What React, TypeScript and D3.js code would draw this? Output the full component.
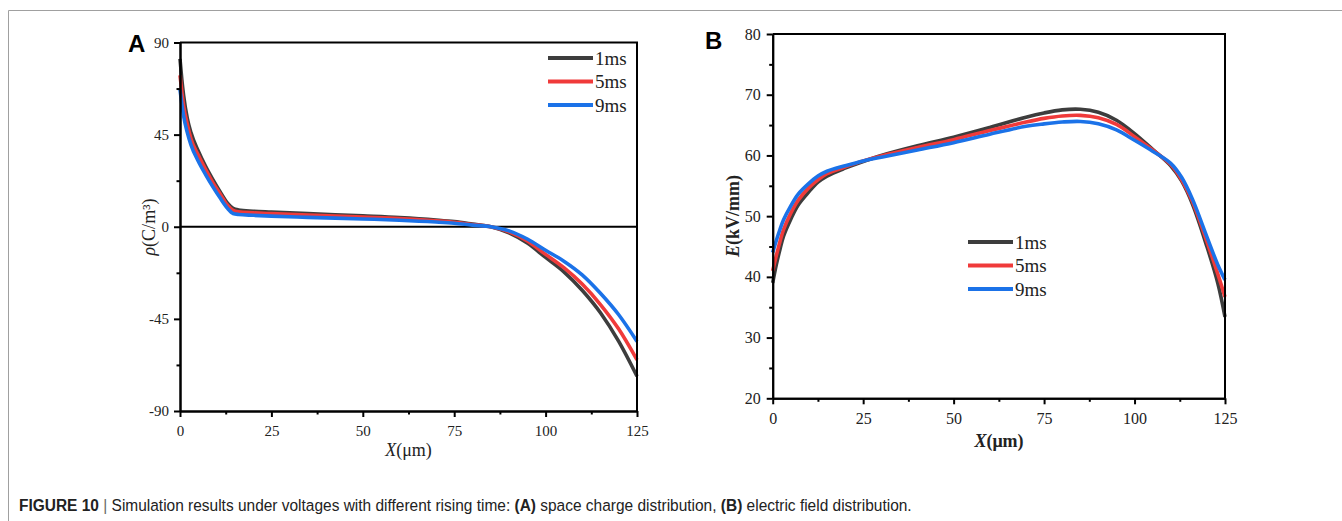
import { useEffect, useRef } from 'react'
import * as d3 from 'd3'

// Panel A: space charge density rho (C/m^3) vs X (um)
const xA = [0, 0.5, 1, 2, 3, 5, 7, 9, 11, 13, 14.5, 16, 20, 25, 35, 50, 60, 70, 75, 80, 85, 90, 95, 100, 105, 110, 115, 120, 125]
const rho1ms = [82, 72, 64, 53, 46, 37, 29.5, 23, 17, 11.5, 9, 8.2, 7.6, 7.2, 6.4, 5.3, 4.5, 3.3, 2.5, 1.3, 0, -3, -8, -15, -22, -31, -42, -56, -73]
const rho5ms = [74, 66, 59, 50, 43, 35, 28, 21.5, 16, 10.5, 8, 7.3, 6.8, 6.4, 5.7, 4.7, 4, 2.9, 2.2, 1.1, 0, -2.5, -7, -13.5, -20, -28, -38, -50, -65]
const rho9ms = [67, 60, 54, 46, 40, 32, 25.5, 19.5, 14, 9, 6.5, 6, 5.6, 5.2, 4.6, 3.8, 3.2, 2.3, 1.7, 0.8, 0, -2, -6, -11.5, -16.8, -23.5, -32.5, -43, -56]

// Panel B: electric field E (kV/mm) vs X (um)
const xB = [0, 1, 2, 3, 5, 7, 10, 12.5, 15, 20, 25, 30, 40, 50, 60, 70, 75, 80, 85, 90, 95, 100, 105, 110, 113, 116, 120, 123, 125]
const e1ms = [39, 42, 44.5, 46.7, 49.5, 51.8, 54, 55.6, 56.6, 57.9, 59, 60, 61.6, 63, 64.6, 66.3, 67, 67.5, 67.6, 67.1, 65.8, 63.6, 61, 58.3, 55.8, 52, 45, 39, 33.4]
const e5ms = [41, 43.5, 45.8, 47.8, 50.5, 52.6, 54.7, 56, 57, 58.1, 59.1, 59.9, 61.3, 62.6, 64.1, 65.5, 66.1, 66.5, 66.6, 66.2, 65.1, 63.1, 60.9, 58.5, 56, 52.4, 45.8, 40.5, 36.7]
const e9ms = [44, 46, 47.8, 49.4, 51.7, 53.6, 55.4, 56.6, 57.4, 58.3, 59.1, 59.7, 60.9, 62.1, 63.5, 64.8, 65.2, 65.5, 65.6, 65.2, 64.2, 62.5, 60.7, 58.7, 56.4, 52.8, 46.6, 42, 39.5]

const seriesNames = ['1ms', '5ms', '9ms']
const seriesColors = ['#3d3d3d', '#f03a3a', '#1b72e8']
const xTicks = [0, 25, 50, 75, 100, 125]
const xMinor = [12.5, 37.5, 62.5, 87.5, 112.5]
const rhoTicks = [-90, -45, 0, 45, 90]
const rhoMinor = [-67.5, -22.5, 22.5, 67.5]
const eTicks = [20, 30, 40, 50, 60, 70, 80]
const eMinor = [25, 35, 45, 55, 65, 75]

const SERIF = 'Liberation Serif, Times New Roman, serif'
const SANS = 'Liberation Sans, Arial, sans-serif'

export default function App() {
  const svgRef = useRef<SVGSVGElement>(null)

  useEffect(() => {
    document.body.style.margin = '0'
    const width = 1342, height = 521
    const svg = d3.select(svgRef.current)
    svg.selectAll('*').remove()
    svg.attr('width', width).attr('height', height).style('background', '#fff')

    // outer figure frame
    svg.append('path')
      .attr('d', `M${width + 5},10.5 H8.5 V${height + 5}`)
      .attr('fill', 'none').attr('stroke', '#a0a0a0').attr('stroke-width', 1)

    function panel(cfg: any) {
      const x = d3.scaleLinear().domain([0, 125]).range([cfg.left, cfg.right])
      const y = d3.scaleLinear().domain(cfg.yDomain).range([cfg.bottom, cfg.top])
      const g = svg.append('g')

      const line = d3.line<number>()
        .x((d, i) => x(cfg.xs[i]))
        .y(d => y(d))
        .curve(cfg.curve)

      if (cfg.zeroLine) {
        g.append('line')
          .attr('x1', cfg.left).attr('x2', cfg.right)
          .attr('y1', y(0)).attr('y2', y(0))
          .attr('stroke', '#000').attr('stroke-width', 2)
      }

      cfg.series.forEach((vals: number[], i: number) => {
        g.append('path')
          .datum(vals)
          .attr('d', line)
          .attr('fill', 'none')
          .attr('stroke', seriesColors[i])
          .attr('stroke-width', 3.6)
          .attr('stroke-linejoin', 'round')
      })

      // frame top & right
      g.append('path')
        .attr('d', `M${cfg.left},${cfg.top} H${cfg.right} V${cfg.bottom}`)
        .attr('fill', 'none').attr('stroke', '#000').attr('stroke-width', 2)

      const xAxis = g.append('g').attr('transform', `translate(0,${cfg.bottom})`)
        .call(d3.axisBottom(x).tickValues(xTicks).tickSize(6).tickSizeOuter(0).tickPadding(cfg.xPad))
      const xAxisMinor = g.append('g').attr('transform', `translate(0,${cfg.bottom})`)
        .call(d3.axisBottom(x).tickValues(xMinor).tickSize(3.5).tickSizeOuter(0).tickFormat(() => ''))
      const yAxis = g.append('g').attr('transform', `translate(${cfg.left},0)`)
        .call(d3.axisLeft(y).tickValues(cfg.yTicks).tickSize(6).tickSizeOuter(0).tickPadding(cfg.yPad))
      const yAxisMinor = g.append('g').attr('transform', `translate(${cfg.left},0)`)
        .call(d3.axisLeft(y).tickValues(cfg.yMinor).tickSize(3.5).tickSizeOuter(0).tickFormat(() => ''))

      ;[xAxis, xAxisMinor, yAxis, yAxisMinor].forEach(a => {
        a.select('.domain').attr('stroke', '#000').attr('stroke-width', 2)
        a.selectAll('.tick line').attr('stroke', '#000').attr('stroke-width', 2)
        a.selectAll('.tick text')
          .attr('fill', '#222')
          .style('font-family', SERIF)
          .style('font-size', cfg.tickFont + 'px')
      })
      yAxis.selectAll('.tick text').text((d: any) => d < 0 ? '-' + Math.abs(d) : String(d))

      // legend
      seriesNames.forEach((name, i) => {
        const ly = cfg.legendY + i * 23.5
        g.append('line')
          .attr('x1', cfg.legendX).attr('x2', cfg.legendX + 45)
          .attr('y1', ly).attr('y2', ly)
          .attr('stroke', seriesColors[i]).attr('stroke-width', 4)
        g.append('text')
          .attr('x', cfg.legendX + 47).attr('y', ly).attr('dy', '0.35em')
          .style('font-family', SERIF).style('font-size', '19px')
          .attr('fill', '#222')
          .text(name)
      })

      // panel letter
      g.append('text')
        .attr('x', cfg.letterX).attr('y', cfg.letterY)
        .style('font-family', SANS).style('font-size', '24px').style('font-weight', 'bold')
        .text(cfg.letter)

      return { x, y, g }
    }

    const a = panel({
      left: 180, right: 637, top: 42.5, bottom: 411,
      yDomain: [-90, 90], yTicks: rhoTicks, yMinor: rhoMinor,
      xs: xA, series: [rho1ms, rho5ms, rho9ms], curve: d3.curveMonotoneX,
      zeroLine: true, xPad: 8, yPad: 5, tickFont: 15,
      legendX: 548, legendY: 58, letter: 'A', letterX: 128, letterY: 52,
    })
    const b = panel({
      left: 772.7, right: 1225, top: 34, bottom: 398.3,
      yDomain: [20, 80], yTicks: eTicks, yMinor: eMinor,
      xs: xB, series: [e1ms, e5ms, e9ms], curve: d3.curveCatmullRom.alpha(0.5),
      zeroLine: false, xPad: 8, yPad: 6, tickFont: 16,
      legendX: 968, legendY: 242, letter: 'B', letterX: 705, letterY: 49,
    })

    // axis titles panel A
    const ta = a.g.append('text')
      .attr('x', 408.5).attr('y', 456).attr('text-anchor', 'middle')
      .style('font-family', SERIF).style('font-size', '18px').attr('fill', '#222')
    ta.append('tspan').style('font-style', 'italic').text('X')
    ta.append('tspan').text('(μm)')

    const ya = a.g.append('text')
      .attr('transform', 'translate(155,227) rotate(-90)').attr('text-anchor', 'middle')
      .style('font-family', SERIF).style('font-size', '18px').attr('fill', '#222')
    ya.append('tspan').style('font-style', 'italic').text('ρ')
    ya.append('tspan').text('(C/m³)')

    // axis titles panel B
    const tb = b.g.append('text')
      .attr('x', 999).attr('y', 447).attr('text-anchor', 'middle')
      .style('font-family', SERIF).style('font-size', '18px').style('font-weight', 'bold').attr('fill', '#222')
    tb.append('tspan').style('font-style', 'italic').text('X')
    tb.append('tspan').text('(μm)')

    const yb = b.g.append('text')
      .attr('transform', 'translate(739,216) rotate(-90)').attr('text-anchor', 'middle')
      .style('font-family', SERIF).style('font-size', '18px').style('font-weight', 'bold').attr('fill', '#222')
    yb.append('tspan').style('font-style', 'italic').text('E')
    yb.append('tspan').text('(kV/mm)')

    // caption (condensed sans, squeezed horizontally)
    const cap = svg.append('text')
      .attr('transform', 'translate(19,511) scale(0.91,1)')
      .style('font-family', SANS)
      .style('font-size', '17px').attr('fill', '#222')
    cap.append('tspan').style('font-weight', 'bold').text('FIGURE 10')
    cap.append('tspan').attr('fill', '#666').text(' | ')
    cap.append('tspan').text('Simulation results under voltages with different rising time: ')
    cap.append('tspan').style('font-weight', 'bold').text('(A)')
    cap.append('tspan').text(' space charge distribution, ')
    cap.append('tspan').style('font-weight', 'bold').text('(B)')
    cap.append('tspan').text(' electric field distribution.')
  }, [])

  return <svg ref={svgRef} style={{ display: 'block' }} />
}
